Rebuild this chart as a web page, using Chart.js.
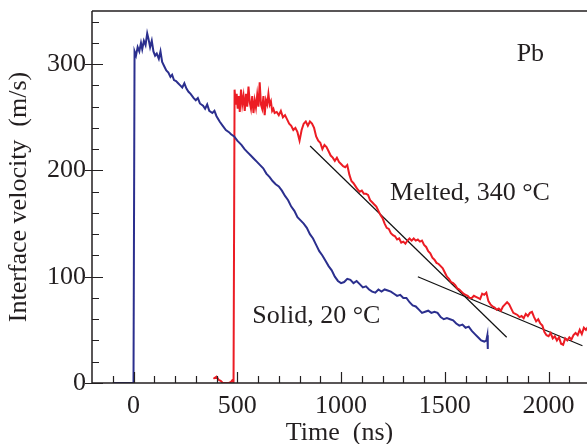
<!DOCTYPE html>
<html>
<head>
<meta charset="utf-8">
<script src="https://cdn.jsdelivr.net/npm/chart.js@4"></script>
<style>
  body { margin: 0; background: #fff; }
  canvas { display: block; }
</style>
</head>
<body>
<canvas id="myChart" width="587" height="444"></canvas>
<script>
// Solid sample, 20 C (blue)
var solidTime = [-100, -50, -5, 0, 5, 12, 20, 28, 36, 42, 50, 58, 66, 72, 80, 88, 96, 104, 112, 122, 130, 138, 148, 158, 168, 178, 186, 195, 205, 215, 225, 235, 245, 255, 265, 275, 290, 300, 310, 320, 335, 345, 355, 365, 380, 390, 400, 415, 430, 445, 460, 470, 485, 500, 520, 535, 550, 565, 580, 595, 610, 625, 640, 655, 670, 685, 700, 715, 730, 745, 760, 775, 790, 805, 820, 835, 850, 865, 880, 895, 910, 925, 940, 955, 970, 985, 1000, 1015, 1030, 1045, 1060, 1075, 1090, 1105, 1120, 1135, 1150, 1165, 1180, 1195, 1210, 1225, 1240, 1255, 1270, 1285, 1300, 1315, 1330, 1345, 1360, 1375, 1390, 1405, 1420, 1435, 1450, 1465, 1480, 1495, 1510, 1525, 1540, 1555, 1570, 1585, 1600, 1615, 1630, 1645, 1660, 1675, 1690, 1700, 1705, 1707];
var solidVel = [0, 0, 0, 0, 312, 308, 316, 312, 320, 314, 322, 318, 329, 324, 316, 322, 312, 308, 310, 305, 312, 302, 298, 294, 292, 288, 290, 285, 284, 282, 280, 278, 282, 277, 274, 272, 268, 266, 268, 263, 261, 258, 262, 256, 254, 256, 251, 246, 242, 238, 236, 234, 232, 228, 224, 220, 217, 214, 211, 208, 205, 202, 197, 194, 190, 187, 185, 181, 176, 172, 166, 162, 156, 153, 150, 146, 140, 136, 130, 124, 120, 115, 110, 106, 100, 96, 94, 95, 98, 97, 94, 96, 93, 90, 91, 88, 86, 85, 88, 86, 88, 87, 86, 84, 82, 83, 80, 80, 76, 73, 72, 69, 66, 67, 68, 66, 67, 66, 62, 60, 61, 60, 59, 56, 54, 55, 52, 53, 49, 46, 43, 40, 39, 40, 45, 32];

// Melted sample, 340 C (red)
var meltTime = [385, 400, 410, 420, 430, 445, 460, 470, 478, 482, 487, 492, 497, 502, 507, 512, 518, 524, 530, 536, 542, 548, 554, 560, 566, 572, 578, 584, 590, 596, 602, 608, 614, 620, 626, 632, 638, 644, 650, 656, 662, 668, 674, 680, 690, 700, 710, 720, 730, 740, 750, 760, 770, 780, 790, 800, 810, 820, 830, 840, 850, 860, 870, 880, 890, 900, 910, 920, 930, 940, 950, 960, 970, 980, 990, 1000, 1010, 1020, 1030, 1040, 1050, 1060, 1070, 1080, 1090, 1100, 1110, 1120, 1130, 1140, 1150, 1160, 1170, 1180, 1190, 1200, 1210, 1220, 1230, 1240, 1250, 1260, 1270, 1280, 1290, 1300, 1310, 1320, 1330, 1340, 1350, 1360, 1370, 1380, 1390, 1400, 1410, 1420, 1430, 1440, 1450, 1460, 1470, 1480, 1490, 1500, 1510, 1520, 1530, 1540, 1550, 1560, 1570, 1580, 1590, 1600, 1610, 1620, 1630, 1640, 1650, 1660, 1670, 1680, 1690, 1700, 1710, 1720, 1730, 1740, 1750, 1760, 1770, 1780, 1790, 1800, 1810, 1820, 1830, 1840, 1850, 1860, 1870, 1880, 1890, 1900, 1910, 1920, 1930, 1940, 1950, 1960, 1970, 1980, 1990, 2000, 2010, 2020, 2030, 2040, 2050, 2060, 2070, 2080, 2090, 2100, 2110, 2120, 2130, 2140, 2150, 2160, 2170, 2180, 2190];
var meltVel = [4, 6, 3, 2, 0, 0, 0, 1, 3, 0, 276, 262, 272, 258, 270, 255, 276, 262, 270, 256, 272, 260, 279, 264, 258, 270, 254, 266, 259, 271, 260, 283, 262, 258, 270, 252, 266, 262, 272, 262, 265, 256, 258, 254, 255, 252, 256, 250, 252, 248, 244, 242, 238, 240, 236, 228, 238, 244, 246, 242, 246, 244, 240, 232, 228, 226, 220, 224, 222, 218, 214, 212, 209, 212, 208, 206, 204, 203, 205, 196, 190, 188, 185, 182, 180, 181, 178, 178, 177, 172, 170, 168, 166, 162, 158, 155, 150, 146, 145, 141, 139, 138, 135, 136, 132, 133, 131, 134, 136, 134, 136, 134, 135, 133, 134, 130, 128, 124, 122, 118, 116, 113, 112, 110, 108, 104, 100, 98, 95, 94, 92, 89, 88, 86, 84, 83, 82, 80, 80, 82, 81, 80, 79, 84, 83, 85, 77, 74, 72, 71, 69, 70, 68, 72, 74, 76, 74, 70, 66, 65, 64, 62, 63, 61, 65, 63, 66, 67, 62, 58, 60, 56, 54, 48, 45, 44, 47, 42, 44, 40, 43, 37, 36, 42, 40, 43, 41, 45, 47, 45, 50, 46, 52, 50, 53];

// linear fits drawn on the melted curve
var fit1Time = [851, 1798];
var fit1Vel = [223, 43];
var fit2Time = [1370, 2163];
var fit2Vel = [100, 35];

var xTicks = [0, 500, 1000, 1500, 2000];
var yTicks = [0, 100, 200, 300];

var labels = [
  { text: 'Pb', x: 1846, y: 303 },
  { text: 'Melted, 340 \u00B0C', x: 1236, y: 172 },
  { text: 'Solid, 20 \u00B0C', x: 572, y: 56 }
];

function pairs(xs, ys) {
  var out = [];
  for (var i = 0; i < xs.length; i++) out.push({ x: xs[i], y: ys[i] });
  return out;
}

var serif = '"Liberation Serif", "Times New Roman", serif';
var ink = '#231f20';

// axes frame, inward ticks and text labels
var framePlugin = {
  id: 'frame',
  afterDatasetsDraw: function (chart) {
    var ctx = chart.ctx, a = chart.chartArea;
    var xs = chart.scales.x, ys = chart.scales.y;
    ctx.save();
    ctx.strokeStyle = ink;
    ctx.lineWidth = 1.5;
    ctx.beginPath();
    ctx.moveTo(a.left, a.top); ctx.lineTo(a.right + 2, a.top);
    ctx.moveTo(a.left, a.top); ctx.lineTo(a.left, a.bottom);
    ctx.lineTo(a.right + 2, a.bottom);
    ctx.stroke();

    ctx.lineWidth = 1.2;
    ctx.beginPath();
    for (var v = 0; v <= 340; v += 20) {
      var py = Math.round(ys.getPixelForValue(v)) + 0.5;
      var major = v % 100 === 0;
      ctx.moveTo(a.left - (major ? 7 : 0), py);
      ctx.lineTo(a.left + (major ? 11 : 7), py);
    }
    for (var t = -100; t <= 2100; t += 100) {
      var px = Math.round(xs.getPixelForValue(t)) + 0.5;
      var big = t % 500 === 0;
      ctx.moveTo(px, a.bottom);
      ctx.lineTo(px, a.bottom - (big ? 11 : 7));
    }
    ctx.stroke();

    ctx.fillStyle = ink;
    ctx.font = '26px ' + serif;
    ctx.textBaseline = 'alphabetic';
    labels.forEach(function (l) {
      ctx.fillText(l.text, xs.getPixelForValue(l.x), ys.getPixelForValue(l.y));
    });
    ctx.restore();
  }
};

function noPad(s) {
  s.paddingTop = 0; s.paddingBottom = 0; s.paddingLeft = 0; s.paddingRight = 0;
}

var ctx = document.getElementById('myChart').getContext('2d');
var myChart = new Chart(ctx, {
  type: 'line',
  data: {
    datasets: [{
      label: 'Solid, 20 \u00B0C',
      data: pairs(solidTime, solidVel),
      borderColor: '#2b2f8e',
      borderWidth: 2
    }, {
      label: 'Melted, 340 \u00B0C',
      data: pairs(meltTime, meltVel),
      borderColor: '#ec1c24',
      borderWidth: 2
    }, {
      label: 'fit 1',
      data: pairs(fit1Time, fit1Vel),
      borderColor: '#111',
      borderWidth: 1.2
    }, {
      label: 'fit 2',
      data: pairs(fit2Time, fit2Vel),
      borderColor: '#111',
      borderWidth: 1.2
    }]
  },
  options: {
    responsive: false,
    animation: false,
    elements: { point: { radius: 0 }, line: { tension: 0, fill: false } },
    layout: { padding: { top: 11, right: 0, left: 0, bottom: 0 } },
    plugins: { legend: { display: false }, tooltip: { enabled: false } },
    scales: {
      x: {
        type: 'linear',
        min: -200,
        max: 2185,
        afterFit: function (s) { s.height = 61; noPad(s); },
        afterBuildTicks: function (s) { s.ticks = xTicks.map(function (v) { return { value: v }; }); },
        grid: { display: false, drawTicks: false },
        border: { display: false },
        ticks: {
          color: ink, font: { family: serif, size: 26 }, padding: 8, maxRotation: 0, autoSkip: false,
          callback: function (v) { return String(v); }
        },
        title: { display: true, text: 'Time  (ns)', color: ink, font: { family: serif, size: 26 }, padding: { top: 0, bottom: -5 } }
      },
      y: {
        type: 'linear',
        min: 0,
        max: 350,
        afterFit: function (s) { s.width = 92; noPad(s); },
        afterBuildTicks: function (s) { s.ticks = yTicks.map(function (v) { return { value: v }; }); },
        grid: { display: false, drawTicks: false },
        border: { display: false },
        ticks: {
          color: ink, font: { family: serif, size: 26 }, padding: 6, autoSkip: false,
          callback: function (v) { return String(v); }
        },
        title: { display: true, text: 'Interface velocity  (m/s)', color: ink, font: { family: serif, size: 26 }, padding: { top: 4, bottom: 0 } }
      }
    }
  },
  plugins: [framePlugin]
});
</script>
</body>
</html>
